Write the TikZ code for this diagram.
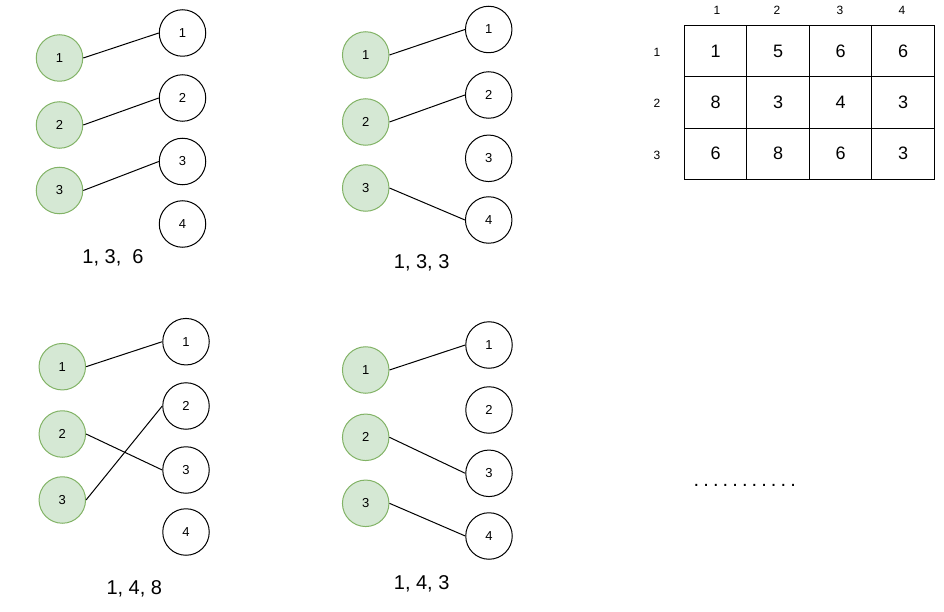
\documentclass[tikz,border=0pt]{standalone}
\usepackage{fontspec}
\setmainfont{Liberation Sans}
\usetikzlibrary{positioning}
\definecolor{workerfill}{HTML}{D5E8D4}
\definecolor{workerline}{HTML}{82B366}

\begin{document}
\begin{tikzpicture}[
    x=1pt, y=-1pt,
    vertex/.style={circle, draw, line width=1pt, minimum size=46.5pt, inner sep=0pt, font=\fontsize{13}{15}\selectfont},
    worker/.style={vertex, draw=workerline, fill=workerfill},
    job/.style={vertex, fill=white},
    match/.style={line width=1pt},
    cost/.style={font=\fontsize{20}{24}\selectfont},
    cell/.style={draw, line width=0.9pt, minimum width=62.5pt, minimum height=51.2pt, inner sep=0pt, font=\fontsize{18}{22}\selectfont},
    idx/.style={font=\fontsize{12}{14}\selectfont}
]
    \useasboundingbox (0,0) rectangle (944,612);

    % 分配 1: 1-1, 2-2, 3-3
    \begin{scope}[shift={(59.5,58)}]
        \node[worker] (l1) at (0, 0) {1};
        \node[worker] (l2) at (0, 67) {2};
        \node[worker] (l3) at (0, 132.5) {3};
        \node[job] (r1) at (123, -25) {1};
        \node[job] (r2) at (123, 40) {2};
        \node[job] (r3) at (123, 103.5) {3};
        \node[job] (r4) at (123, 166) {4};
        \draw[match] (l1.east) -- (r1.west);
        \draw[match] (l2.east) -- (r2.west);
        \draw[match] (l3.east) -- (r3.west);
        \node[cost] (c) at (53.5, 200) {1, 3, \ 6};
    \end{scope}

    % 分配 2: 1-1, 2-2, 3-4
    \begin{scope}[shift={(365.7,55)}]
        \node[worker] (l1) at (0, 0) {1};
        \node[worker] (l2) at (0, 67) {2};
        \node[worker] (l3) at (0, 133) {3};
        \node[job] (r1) at (123, -25.5) {1};
        \node[job] (r2) at (123, 40) {2};
        \node[job] (r3) at (123, 103.3) {3};
        \node[job] (r4) at (123, 165) {4};
        \draw[match] (l1.east) -- (r1.west);
        \draw[match] (l2.east) -- (r2.west);
        \draw[match] (l3.east) -- (r4.west);
        \node[cost] (c) at (56, 208) {1, 3, 3};
    \end{scope}

    % 分配 3: 1-1, 2-3, 3-2
    \begin{scope}[shift={(62.3,366.7)}]
        \node[worker] (l1) at (0, 0) {1};
        \node[worker] (l2) at (0, 67.3) {2};
        \node[worker] (l3) at (0, 133.3) {3};
        \node[job] (r1) at (123.7, -25) {1};
        \node[job] (r2) at (123.7, 39.3) {2};
        \node[job] (r3) at (123.7, 103.3) {3};
        \node[job] (r4) at (123.7, 165.3) {4};
        \draw[match] (l1.east) -- (r1.west);
        \draw[match] (l2.east) -- (r3.west);
        \draw[match] (l3.east) -- (r2.west);
        \node[cost] (c) at (72, 222) {1, 4, 8};
    \end{scope}

    % 分配 4: 1-1, 2-3, 3-4
    \begin{scope}[shift={(365.7,370)}]
        \node[worker] (l1) at (0, 0) {1};
        \node[worker] (l2) at (0, 67.3) {2};
        \node[worker] (l3) at (0, 133.3) {3};
        \node[job] (r1) at (123.3, -25) {1};
        \node[job] (r2) at (123.3, 40) {2};
        \node[job] (r3) at (123.3, 103.3) {3};
        \node[job] (r4) at (123.3, 166) {4};
        \draw[match] (l1.east) -- (r1.west);
        \draw[match] (l2.east) -- (r3.west);
        \draw[match] (l3.east) -- (r4.west);
        \node[cost] (c) at (56, 214) {1, 4, 3};
    \end{scope}

    % 代价矩阵
    \node[cell] (m11) at (715.5, 51.3) {1};
    \node[cell] (m12) at (778, 51.3) {5};
    \node[cell] (m13) at (840.5, 51.3) {6};
    \node[cell] (m14) at (903, 51.3) {6};
    \node[cell] (m21) at (715.5, 102.5) {8};
    \node[cell] (m22) at (778, 102.5) {3};
    \node[cell] (m23) at (840.5, 102.5) {4};
    \node[cell] (m24) at (903, 102.5) {3};
    \node[cell] (m31) at (715.5, 153.7) {6};
    \node[cell] (m32) at (778, 153.7) {8};
    \node[cell] (m33) at (840.5, 153.7) {6};
    \node[cell] (m34) at (903, 153.7) {3};
    \node[idx] (h1) at (717, 10) {1};
    \node[idx] (h2) at (777, 10) {2};
    \node[idx] (h3) at (840, 10) {3};
    \node[idx] (h4) at (902, 10) {4};
    \node[idx] (v1) at (657, 52) {1};
    \node[idx] (v2) at (657, 103) {2};
    \node[idx] (v3) at (657, 155) {3};

    \node[font=\fontsize{20}{24}\selectfont, anchor=base west, inner sep=0pt] (etc) at (693.5, 486)
        {.\kern4.1pt.\kern4.1pt.\kern4.1pt.\kern4.1pt.\kern4.1pt.\kern4.1pt.\kern4.1pt.\kern4.1pt.\kern4.1pt.\kern4.1pt.};
\end{tikzpicture}
\end{document}
